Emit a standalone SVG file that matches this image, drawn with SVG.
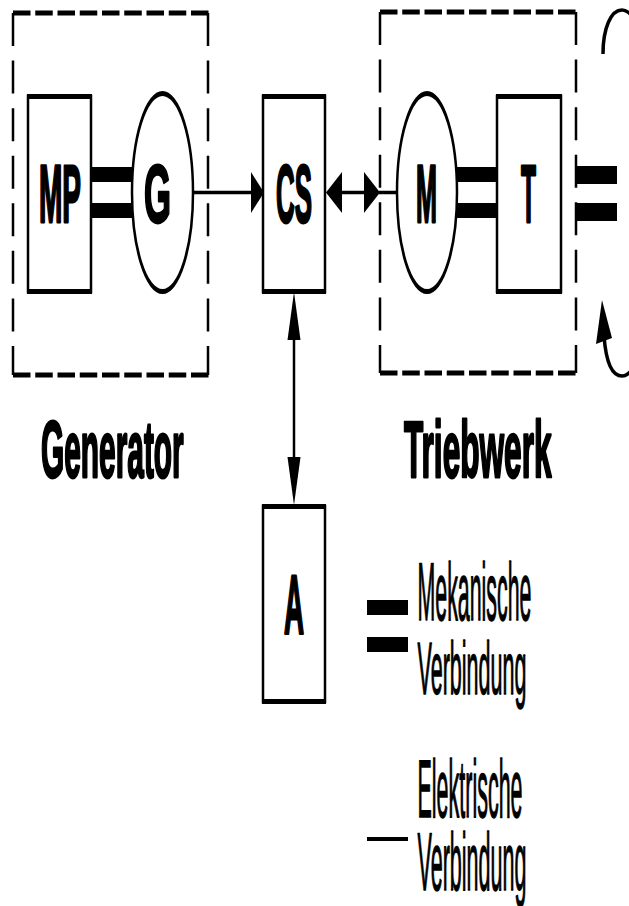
<svg xmlns="http://www.w3.org/2000/svg" width="629" height="906" viewBox="0 0 629 906">
  <style>
    .bg { fill: #ffffff; }
    .dash-h { stroke: #000; stroke-width: 5; stroke-dasharray: 17.5 4.75; fill: none; }
    .dash-v { stroke: #000; stroke-width: 2.5; stroke-dasharray: 33 14.57; fill: none; }
    .box { fill: #fff; stroke: #000; stroke-width: 2.5; }
    .edge { stroke: #000; stroke-width: 5; }
    .oval { fill: #fff; stroke: #000; stroke-width: 5; }
    .bar { fill: #000; }
    .wire { stroke: #000; stroke-width: 3.5; fill: none; }
    .wire-v { stroke: #000; stroke-width: 2.5; fill: none; }
    .head { fill: #000; }
    .lbl { font-family: "Liberation Sans", Arial, sans-serif; font-weight: bold; fill: #000;
           stroke: #000; stroke-width: 2.2; vector-effect: non-scaling-stroke; stroke-linejoin: round; }
    .leg { font-family: "Liberation Sans", Arial, sans-serif; fill: #000;
           stroke: #000; stroke-width: 1.4; vector-effect: non-scaling-stroke; stroke-linejoin: round; }
  </style>

  <rect class="bg" x="0" y="0" width="629" height="906"/>

  <!-- Generator group frame -->
  <g id="generator-frame">
    <line class="dash-h" x1="13" y1="13" x2="208.5" y2="13"/>
    <line class="dash-h" x1="13" y1="375" x2="208.5" y2="375"/>
    <line class="dash-v" x1="13" y1="13" x2="13" y2="375"/>
    <line class="dash-v" x1="208" y1="13" x2="208" y2="375"/>
    <text class="lbl" transform="translate(41,477) scale(0.378,1)" font-size="79">Generator</text>
  </g>

  <!-- Triebwerk group frame -->
  <g id="triebwerk-frame">
    <line class="dash-h" x1="380" y1="12" x2="576.5" y2="12"/>
    <line class="dash-h" x1="380" y1="373" x2="576.5" y2="373"/>
    <line class="dash-v" x1="380" y1="12" x2="380" y2="373"/>
    <line class="dash-v" x1="576" y1="12" x2="576" y2="373"/>
    <text class="lbl" transform="translate(404,477) scale(0.4,1)" font-size="79">Triebwerk</text>
  </g>

  <!-- connectors -->
  <g id="connectors">
    <!-- mechanical shafts -->
    <rect class="bar" x="90" y="167" width="44" height="15"/>
    <rect class="bar" x="90" y="203" width="44" height="15"/>
    <rect class="bar" x="455" y="167" width="43" height="15"/>
    <rect class="bar" x="455" y="203" width="43" height="15"/>
    <rect class="bar" x="577" y="166" width="40" height="18"/>
    <rect class="bar" x="577" y="203" width="40" height="18"/>

    <!-- G to CS -->
    <line class="wire" x1="193" y1="192.5" x2="254" y2="192.5"/>
    <polygon class="head" points="251,172 264,192.5 251,213"/>

    <!-- CS to M (bidirectional) -->
    <line class="wire" x1="338" y1="192.5" x2="368" y2="192.5"/>
    <polygon class="head" points="342,172 326,192.5 342,213"/>
    <polygon class="head" points="364,172 380,192.5 364,213"/>
    <line class="wire" x1="379" y1="192.5" x2="398" y2="192.5" stroke-width="2.5"/>

    <!-- CS to A (bidirectional) -->
    <line class="wire-v" x1="294" y1="330" x2="294" y2="468"/>
    <polygon class="head" points="294,292 287.5,340 300.5,340"/>
    <polygon class="head" points="287.5,457 300.5,457 294,505"/>

    <!-- rotation indicator -->
    <path class="wire" stroke-width="3" d="M603,54 C603,28 611,10 622,10 C642,10 654,80 654,192 C654,304 642,376 622,376 C612,376 606,362 604,336"/>
    <polygon class="head" points="602,300 596,344 612,338"/>
  </g>

  <!-- MP -->
  <g id="node-mp">
    <rect class="box" x="28" y="96" width="63" height="196"/>
    <line class="edge" x1="27" y1="96.5" x2="92" y2="96.5"/>
    <line class="edge" x1="27" y1="291.5" x2="92" y2="291.5"/>
    <text class="lbl" transform="translate(39,222) scale(0.346,1)" font-size="81">MP</text>
  </g>

  <!-- G -->
  <g id="node-g">
    <g transform="translate(162.5,192.5) scale(0.5,1)">
      <ellipse class="oval" cx="0" cy="0" rx="61" ry="99"/>
    </g>
    <text class="lbl" transform="translate(144,222) scale(0.429,1)" font-size="81">G</text>
  </g>

  <!-- CS -->
  <g id="node-cs">
    <rect class="box" x="263" y="96" width="62" height="196"/>
    <line class="edge" x1="262" y1="96.5" x2="326" y2="96.5"/>
    <line class="edge" x1="262" y1="291.5" x2="326" y2="291.5"/>
    <text class="lbl" transform="translate(276,222) scale(0.32,1)" font-size="81">CS</text>
  </g>

  <!-- M -->
  <g id="node-m">
    <g transform="translate(427,192.5) scale(0.5,1)">
      <ellipse class="oval" cx="0" cy="0" rx="60" ry="99"/>
    </g>
    <text class="lbl" transform="translate(416,222) scale(0.311,1)" font-size="81">M</text>
  </g>

  <!-- T -->
  <g id="node-t">
    <rect class="box" x="497" y="96" width="64" height="196"/>
    <line class="edge" x1="496" y1="96.5" x2="562" y2="96.5"/>
    <line class="edge" x1="496" y1="291.5" x2="562" y2="291.5"/>
    <text class="lbl" transform="translate(521,222) scale(0.303,1)" font-size="81">T</text>
  </g>

  <!-- A -->
  <g id="node-a">
    <rect class="box" x="263" y="506" width="62" height="196"/>
    <line class="edge" x1="262" y1="506.5" x2="326" y2="506.5"/>
    <line class="edge" x1="262" y1="701.5" x2="326" y2="701.5"/>
    <text class="lbl" transform="translate(284,634) scale(0.334,1)" font-size="83">A</text>
  </g>

  <!-- legend -->
  <g id="legend">
    <rect class="bar" x="367" y="600" width="41" height="15"/>
    <rect class="bar" x="367" y="637" width="41" height="15"/>
    <text class="leg" transform="translate(417.5,620) scale(0.2606,1)" font-size="82">
      <tspan x="0" y="0">Mekanische</tspan>
      <tspan x="0" y="74" font-size="74" textLength="418" lengthAdjust="spacingAndGlyphs">Verbindung</tspan>
    </text>

    <line stroke="#000" stroke-width="4" x1="367" y1="839" x2="408" y2="839"/>
    <text class="leg" transform="translate(417.5,817) scale(0.262,1)" font-size="82">
      <tspan x="0" y="0">Elektrische</tspan>
      <tspan x="0" y="73" textLength="416" lengthAdjust="spacingAndGlyphs">Verbindung</tspan>
    </text>
  </g>
</svg>
